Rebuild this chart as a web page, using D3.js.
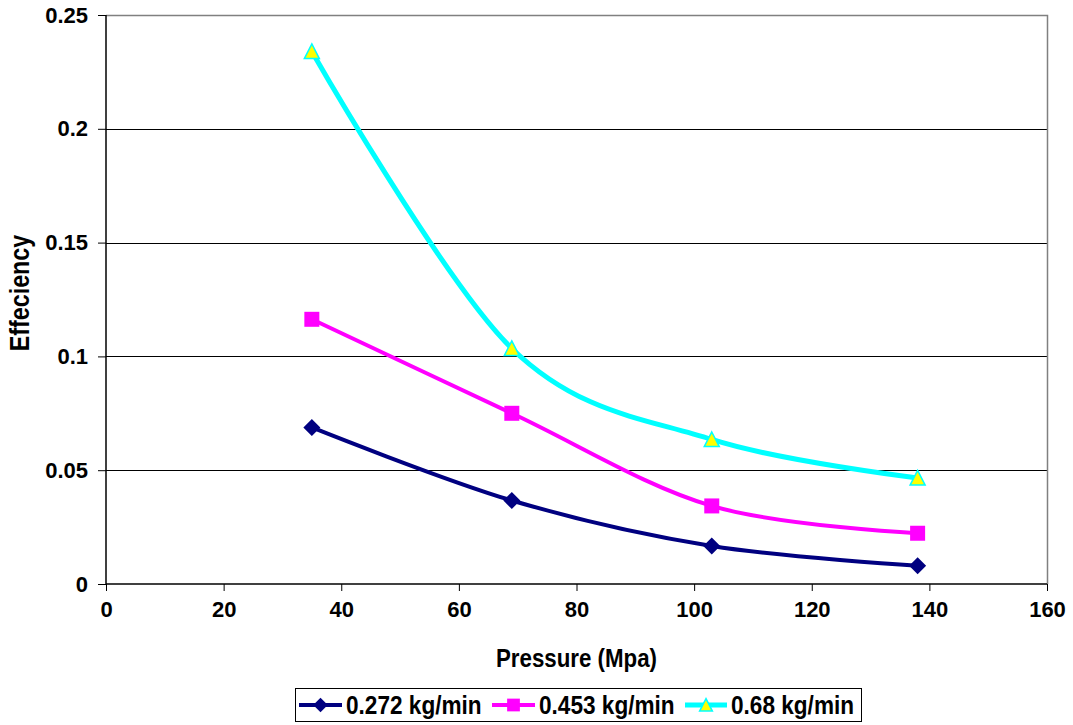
<!DOCTYPE html>
<html>
<head>
<meta charset="utf-8">
<script src="https://cdn.jsdelivr.net/npm/d3@7"></script>
<style>
  html, body { margin: 0; padding: 0; background: #fff; }
  svg { display: block; font-family: "Liberation Sans", Arial, sans-serif; font-weight: bold; }
</style>
</head>
<body>
<svg id="chart" width="1073" height="725"></svg>
<script>
// Pressure values (Mpa) along the x axis
const pressure = [35, 69, 103, 138];

// Efficiency per flow rate
const seriesNames = ["0.272 kg/min", "0.453 kg/min", "0.68 kg/min"];
const eff272 = [0.0688, 0.0367, 0.0167, 0.0080];
const eff453 = [0.1163, 0.0750, 0.0343, 0.0223];
const eff680 = [0.2340, 0.1035, 0.0635, 0.0466];

// Axis ticks
const xTicks = [0, 20, 40, 60, 80, 100, 120, 140, 160];
const yTicks = [0, 0.05, 0.1, 0.15, 0.2, 0.25];
const yTickLabels = ["0", "0.05", "0.1", "0.15", "0.2", "0.25"];

const styles = [
  { stroke: "#000080", fill: "#000080", shape: "diamond", width: 4 },
  { stroke: "#FF00FF", fill: "#FF00FF", shape: "square", width: 4 },
  { stroke: "#00FFFF", fill: "#FFFF00", shape: "triangle", width: 5 }
];
const seriesValues = [eff272, eff453, eff680];

const svg = d3.select("#chart");
const plot = { left: 106, top: 15, right: 1047, bottom: 584 };

const x = d3.scaleLinear().domain([0, 160]).range([plot.left, plot.right]);
const y = d3.scaleLinear().domain([0, 0.25]).range([plot.bottom, plot.top]);

// Horizontal gridlines
svg.append("g")
  .selectAll("line")
  .data(yTicks.filter(v => v > 0 && v < 0.25))
  .join("line")
  .attr("x1", plot.left).attr("x2", plot.right)
  .attr("y1", d => Math.round(y(d)) + 0.5).attr("y2", d => Math.round(y(d)) + 0.5)
  .attr("stroke", "#000").attr("stroke-width", 1);

// Plot area border (top and right)
svg.append("path")
  .attr("d", `M${plot.left},${plot.top + 0.5}H${plot.right + 0.5}V${plot.bottom}`)
  .attr("fill", "none").attr("stroke", "#808080").attr("stroke-width", 1.5);

// Y axis
const yAxis = d3.axisLeft(y)
  .tickValues(yTicks)
  .tickFormat((d, i) => yTickLabels[i])
  .tickSize(8).tickPadding(10);
const gy = svg.append("g").attr("transform", `translate(${plot.left},0)`).call(yAxis);

// X axis
const xAxis = d3.axisBottom(x).tickValues(xTicks).tickFormat(d3.format("d")).tickSize(7).tickPadding(10);
const gx = svg.append("g").attr("transform", `translate(0,${plot.bottom})`).call(xAxis);

[gx, gy].forEach(g => {
  g.select(".domain").attr("stroke", "#000").attr("stroke-width", 1.5);
  g.selectAll(".tick line").attr("stroke", "#000").attr("stroke-width", 1);
  g.selectAll("text")
    .attr("font-family", "Liberation Sans, Arial, sans-serif")
    .attr("font-weight", "bold").attr("font-size", 22).attr("fill", "#000");
});
gx.select(".domain").attr("d", `M${plot.left},0H${plot.right}`);
gy.select(".domain").attr("d", `M0,${plot.bottom}V${plot.top}`);

// Axis titles (slightly tall lettering)
svg.append("text")
  .attr("transform", `translate(${(plot.left + plot.right) / 2},666.5) scale(1,1.15)`)
  .attr("text-anchor", "middle").attr("font-size", 22.3)
  .text("Pressure (Mpa)");
svg.append("text")
  .attr("transform", `translate(29,293) rotate(-90) scale(1,1.15)`)
  .attr("text-anchor", "middle").attr("font-size", 23.3)
  .text("Effeciency");

// Marker shapes
function markerPath(shape, s) {
  if (shape === "diamond") return `M0,${-s}L${s},0L0,${s}L${-s},0Z`;
  if (shape === "square") return `M${-s},${-s}H${s}V${s}H${-s}Z`;
  return `M0,${-s}L${s},${s * 0.95}H${-s}Z`;
}
const markerSize = { diamond: 8.5, square: 7.5, triangle: 7.5 };

const line = d3.line()
  .x((d, i) => x(pressure[i]))
  .y(d => y(d))
  .curve(d3.curveCatmullRom.alpha(0));

seriesValues.forEach((vals, si) => {
  const st = styles[si];
  const g = svg.append("g");
  g.append("path")
    .datum(vals)
    .attr("d", line)
    .attr("fill", "none")
    .attr("stroke", st.stroke)
    .attr("stroke-width", st.width)
    .attr("stroke-linejoin", "round");
  g.selectAll("path.mk")
    .data(vals)
    .join("path")
    .attr("class", "mk")
    .attr("transform", (d, i) => `translate(${x(pressure[i])},${y(d)})`)
    .attr("d", markerPath(st.shape, markerSize[st.shape]))
    .attr("fill", st.fill)
    .attr("stroke", st.shape === "triangle" ? st.stroke : "none")
    .attr("stroke-width", 1.5);
});

// Legend
const legend = svg.append("g");
legend.append("rect")
  .attr("x", 295.5).attr("y", 688.5).attr("width", 566).attr("height", 33)
  .attr("fill", "#fff").attr("stroke", "#000").attr("stroke-width", 1);
const legendItems = [
  { x0: 299, x1: 342, tx: 346 },
  { x0: 492, x1: 535, tx: 539 },
  { x0: 685, x1: 727, tx: 731 }
];
seriesNames.forEach((name, si) => {
  const st = styles[si];
  const it = legendItems[si];
  const cy = 705;
  legend.append("line")
    .attr("x1", it.x0).attr("x2", it.x1).attr("y1", cy).attr("y2", cy)
    .attr("stroke", st.stroke).attr("stroke-width", st.width);
  legend.append("path")
    .attr("transform", `translate(${(it.x0 + it.x1) / 2},${cy})`)
    .attr("d", markerPath(st.shape, markerSize[st.shape] * 0.85))
    .attr("fill", st.fill)
    .attr("stroke", st.shape === "triangle" ? st.stroke : "none")
    .attr("stroke-width", 1.5);
  legend.append("text")
    .attr("transform", `translate(${it.tx},${cy + 8.5}) scale(1,1.1)`)
    .attr("font-size", 22.6)
    .text(name);
});
</script>
</body>
</html>
